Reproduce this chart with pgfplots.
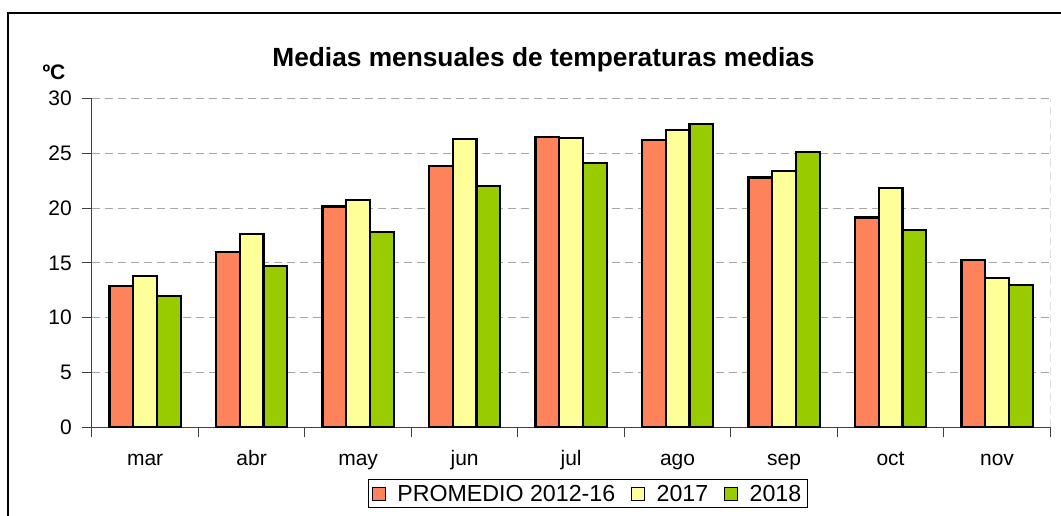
\documentclass[border=0pt]{standalone}
\usepackage{pgfplots}
\pgfplotsset{compat=1.18}
\usepackage{fontspec}
\setmainfont{Liberation Sans}
\definecolor{cOr}{HTML}{FF835A}
\definecolor{cYe}{HTML}{FFFF99}
\definecolor{cGr}{HTML}{99CC00}
\definecolor{gridc}{HTML}{A6A6A6}
\definecolor{axc}{HTML}{404040}
\pgfplotsset{sqleg/.style={legend image code/.code={\path[draw=none,fill=none] (0pt,-6.5pt) rectangle (23pt,6.5pt);\draw[##1, line width=0.8pt, draw=black] (0pt,-6.5pt) rectangle (13pt,6.5pt);}}}
\begin{document}
\begin{tikzpicture}[x=1pt,y=1pt]
\useasboundingbox (0,0) rectangle (1061,516);
\draw[line width=1.2pt] (8,0) -- (8,503) -- (1061,503);
\node[anchor=base, font=\fontsize{26.3}{30}\selectfont\bfseries, inner sep=0pt] at (543.5,449) {Medias mensuales de temperaturas medias};
\node[anchor=base, font=\fontsize{21}{25}\selectfont\bfseries, inner sep=0pt] at (54,436) {ºC};
\begin{axis}[
  at={(136.3,81)}, anchor=origin,
  scale only axis, width=958.4pt, height=328.7pt,
  xmin=-0.5, xmax=8.5, ymin=0, ymax=30,
  axis x line=bottom, axis y line=left,
  axis line style={-, line width=1pt, draw=axc},
  ybar=0pt, bar width=23.7pt,
  ytick={0,5,...,30},
  xtick={-0.5,0.5,...,8.5}, xticklabels={},
  extra x ticks={0,1,...,8},
  extra x tick labels={mar,abr,may,jun,jul,ago,sep,oct,nov},
  extra x tick style={major tick length=0pt, xticklabel style={anchor=base, yshift=-38.5pt}},
  tick align=outside, major tick length=10pt,
  tick style={line width=0.8pt, draw=axc},
  ymajorgrids, grid style={line width=1pt, draw=gridc, dash pattern=on 8pt off 5pt},
  ticklabel style={font=\fontsize{21}{25}\selectfont},
  /pgf/number format/assume math mode=true,
  yticklabel style={inner sep=0pt, xshift=-10pt},
  legend columns=3,
  legend style={at={(0.5172,-0.2023)}, anchor=center, draw=black, line width=0.8pt,
    font=\fontsize{23.2}{27}\selectfont, inner ysep=3pt, inner xsep=4pt,
    /tikz/every even column/.append style={column sep=14pt}},
]
\addplot[fill=cOr, draw=black, line width=2.2pt, sqleg] coordinates {(0,12.9) (1,16.0) (2,20.15) (3,23.85) (4,26.5) (5,26.2) (6,22.8) (7,19.15) (8,15.25)};
\addplot[fill=cYe, draw=black, line width=2.2pt, sqleg] coordinates {(0,13.8) (1,17.65) (2,20.75) (3,26.3) (4,26.4) (5,27.1) (6,23.4) (7,21.8) (8,13.65)};
\addplot[fill=cGr, draw=black, line width=2.2pt, sqleg] coordinates {(0,12.0) (1,14.7) (2,17.8) (3,22.05) (4,24.1) (5,27.7) (6,25.1) (7,18.0) (8,12.95)};
\legend{PROMEDIO 2012-16,2017,2018}
\draw[draw=gridc, line width=1pt, dash pattern=on 8pt off 5pt] (rel axis cs:1,0) -- (rel axis cs:1,1);
\end{axis}
\end{tikzpicture}
\end{document}
